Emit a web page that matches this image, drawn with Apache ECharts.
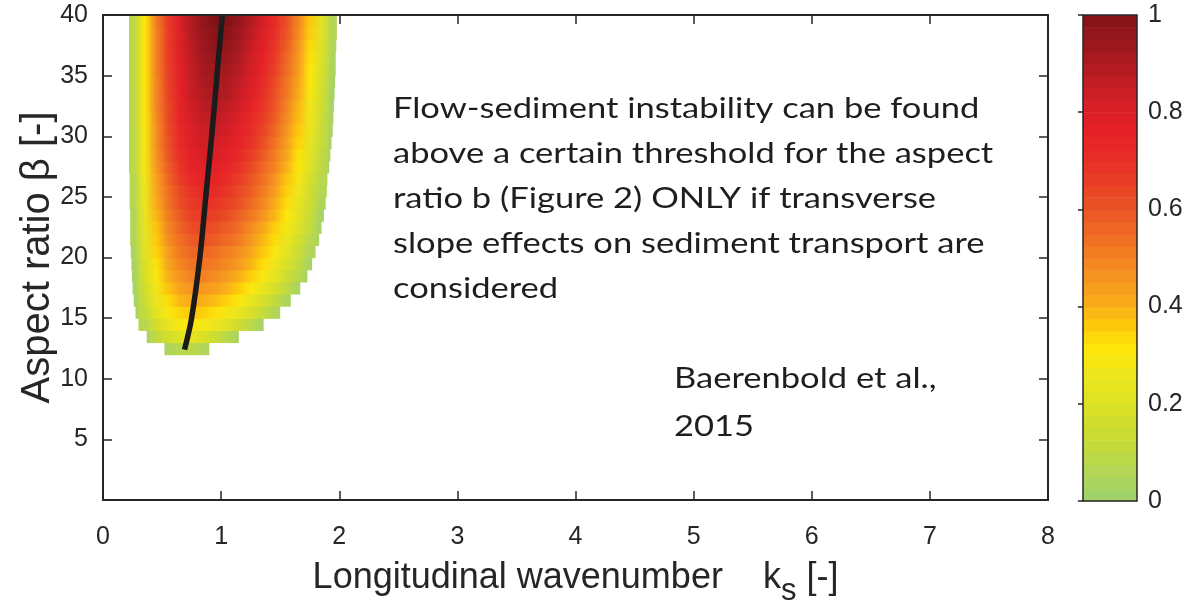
<!DOCTYPE html>
<html>
<head>
<meta charset="utf-8">
<script src="https://cdn.jsdelivr.net/npm/echarts@6/dist/echarts.min.js"></script>
<style>html,body{margin:0;padding:0;background:#fff}#chart{width:1204px;height:612px}</style>
</head>
<body>
<div id="chart"></div>
<script>
// ---- data ----
// cell centres of the growth-rate field
const ksCenters = [0.25, 0.35, 0.45, 0.55, 0.65, 0.75, 0.85, 0.95, 1.05, 1.15, 1.25, 1.35, 1.45, 1.55, 1.65, 1.75, 1.85, 1.95];
const betaCenters = [12.5, 13.5, 14.5, 15.5, 16.5, 17.5, 18.5, 19.5, 20.5, 21.5, 22.5, 23.5, 24.5, 25.5, 26.5, 27.5, 28.5, 29.5, 30.5, 31.5, 32.5, 33.5, 34.5, 35.5, 36.5, 37.5, 38.5, 39.5];
// normalised growth rate, one row per beta (bottom to top), null = stable (white)
const n = null;
const growthRate = [
  [n, n, n, .03, .06, .07, .04, n, n, n, n, n, n, n, n, n, n, n],
  [n, .02, .09, .16, .20, .21, .18, .13, .07, .02, n, n, n, n, n, n, n, n],
  [n, .06, .16, .23, .28, .29, .27, .24, .20, .14, .08, .02, n, n, n, n, n, n],
  [.02, .10, .21, .28, .33, .35, .34, .31, .27, .23, .17, .11, .04, n, n, n, n, n],
  [.02, .13, .24, .32, .38, .40, .39, .37, .33, .29, .23, .17, .10, .03, n, n, n, n],
  [.02, .15, .27, .36, .42, .45, .44, .42, .39, .34, .29, .23, .17, .09, .02, n, n, n],
  [.02, .17, .29, .39, .45, .49, .49, .46, .43, .39, .34, .28, .22, .14, .07, .02, n, n],
  [.02, .18, .31, .41, .48, .52, .52, .50, .47, .43, .38, .32, .25, .18, .10, .02, n, n],
  [.03, .20, .33, .43, .51, .55, .55, .53, .50, .46, .41, .35, .28, .21, .13, .04, n, n],
  [.04, .21, .35, .46, .53, .58, .59, .57, .54, .50, .44, .38, .32, .24, .16, .07, .02, n],
  [.04, .22, .36, .48, .56, .61, .62, .60, .57, .53, .47, .41, .34, .27, .19, .10, .02, n],
  [.04, .23, .38, .50, .58, .64, .65, .64, .61, .56, .51, .45, .38, .30, .21, .12, .02, n],
  [.05, .24, .40, .52, .61, .66, .68, .67, .64, .60, .54, .48, .40, .32, .23, .14, .04, n],
  [.05, .25, .41, .53, .62, .68, .71, .70, .67, .62, .57, .50, .43, .34, .25, .15, .05, n],
  [.06, .26, .42, .55, .65, .71, .74, .73, .70, .65, .59, .53, .45, .36, .27, .17, .06, n],
  [.07, .27, .44, .57, .67, .74, .77, .76, .73, .68, .62, .55, .48, .39, .29, .19, .08, .02],
  [.07, .28, .45, .59, .69, .76, .79, .79, .76, .71, .65, .58, .50, .41, .31, .21, .09, .02],
  [.07, .28, .46, .60, .71, .78, .82, .81, .78, .74, .68, .61, .52, .43, .33, .22, .11, .02],
  [.07, .28, .46, .61, .72, .79, .83, .84, .81, .76, .70, .63, .55, .45, .35, .24, .12, .02],
  [.07, .29, .47, .62, .73, .81, .85, .86, .83, .78, .72, .65, .57, .47, .37, .25, .13, .02],
  [.07, .29, .48, .62, .74, .82, .87, .88, .85, .81, .75, .67, .59, .49, .38, .26, .14, .02],
  [.07, .29, .48, .63, .75, .84, .88, .90, .88, .83, .77, .69, .60, .51, .40, .28, .15, .02],
  [.07, .30, .48, .64, .76, .84, .90, .91, .89, .85, .79, .71, .62, .52, .41, .29, .16, .02],
  [.07, .30, .49, .64, .76, .85, .91, .93, .91, .87, .81, .73, .64, .54, .43, .30, .17, .03],
  [.07, .30, .49, .65, .77, .86, .92, .94, .93, .89, .82, .75, .66, .55, .44, .31, .18, .03],
  [.07, .30, .49, .65, .78, .87, .93, .96, .95, .91, .84, .77, .67, .57, .45, .32, .19, .04],
  [.07, .30, .49, .65, .78, .88, .94, .97, .97, .92, .86, .78, .69, .59, .47, .34, .20, .05],
  [.07, .30, .50, .66, .79, .89, .95, .99, .98, .94, .88, .80, .71, .60, .48, .35, .20, .05]
];
// left / right limit (in ks) of the unstable region for each beta row
const edgeLeft = [0.52, 0.37, 0.30, 0.275, 0.26, 0.25, 0.245, 0.24, 0.235, 0.23, 0.23, 0.23, 0.225, 0.225, 0.225, 0.22, 0.22, 0.22, 0.22, 0.22, 0.22, 0.22, 0.22, 0.22, 0.22, 0.22, 0.22, 0.22];
const edgeRight = [0.90, 1.15, 1.36, 1.50, 1.59, 1.67, 1.73, 1.77, 1.80, 1.83, 1.85, 1.87, 1.885, 1.895, 1.905, 1.915, 1.925, 1.935, 1.945, 1.95, 1.955, 1.96, 1.965, 1.97, 1.97, 1.975, 1.98, 1.98];
// ridge of maximum growth (black line)
const ridgeKs = [0.69, 0.75, 0.82, 0.87, 0.92, 0.965, 1.01];
const ridgeBeta = [12.4, 15, 20, 25, 30, 35, 40];
// colour-bar levels (contour steps)
const colorbarLevels = [0, 0.025, 0.05, 0.075, 0.1, 0.125, 0.15, 0.175, 0.2, 0.225, 0.25, 0.275, 0.3, 0.325, 0.35, 0.375, 0.4, 0.425, 0.45, 0.475, 0.5, 0.525, 0.55, 0.575, 0.6, 0.625, 0.65, 0.675, 0.7, 0.725, 0.75, 0.775, 0.8, 0.825, 0.85, 0.875, 0.9, 0.925, 0.95, 0.975];
const annotationLines = ['Flow-sediment instability can be found', 'above a certain threshold for the aspect', 'ratio b (Figure 2) ONLY if transverse', 'slope effects on sediment transport are', 'considered'];
const citationLines = ['Baerenbold et al.,', '2015'];

// ---- style ----
const COLORS = ['#a2d36b', '#b3d654', '#c3da3c', '#d1dd2c', '#e0e224', '#eee61c', '#fde70a', '#fdc80b', '#f8aa1b', '#f59321', '#f27c22', '#ee6624', '#ea5025', '#e83c26', '#e72b27', '#e52127', '#d61f26', '#c21d24', '#a81a20', '#92161b', '#7a1114'];
const AX = '#262626';
const TXT = '#262626';
const SANS = '"Liberation Sans", Arial, Helvetica, sans-serif';
const NOTE_FONT = 'Lato, "Open Sans", sans-serif';
const CELL_W = 0.1, CELL_H = 1, CB_STEP = 0.025;

// field items: [ks, beta, value, row, col]; cellIndex lets a cell find its neighbours
const fieldData = [];
const cellIndex = growthRate.map(row => row.map(() => -1));
growthRate.forEach((row, i) => row.forEach((v, j) => {
  if (v !== null) {
    cellIndex[i][j] = fieldData.length;
    fieldData.push([ksCenters[j], betaCenters[i], v, i, j]);
  }
}));
const ridgeData = ridgeKs.map((k, i) => [k, ridgeBeta[i]]);
const colorbarData = colorbarLevels.map(l => [0, l, l]);

function renderCell(params, api) {
  const x = api.value(0), y = api.value(1);
  const i = api.value(3), j = api.value(4);
  const xa = Math.max(x - CELL_W / 2, edgeLeft[i]);
  const xb = Math.min(x + CELL_W / 2, edgeRight[i]);
  if (xb <= xa) return null;
  const p0 = api.coord([xa, y + CELL_H / 2]);
  const p1 = api.coord([xb, y - CELL_H / 2]);
  const own = api.visual('color');
  const li = j > 0 ? cellIndex[i][j - 1] : -1;
  const ri = j < cellIndex[i].length - 1 ? cellIndex[i][j + 1] : -1;
  const lc = li >= 0 ? echarts.color.lerp(0.5, [own, api.visual('color', li)]) : own;
  const rc = ri >= 0 ? echarts.color.lerp(0.5, [own, api.visual('color', ri)]) : own;
  const extra = ri >= 0 ? 0.7 : 0;
  return {
    type: 'rect',
    shape: { x: p0[0], y: p0[1], width: p1[0] - p0[0] + extra, height: p1[1] - p0[1] + 0.7 },
    style: { fill: { type: 'linear', x: 0, y: 0, x2: 1, y2: 0, colorStops: [
      { offset: 0, color: lc }, { offset: 0.5, color: own }, { offset: 1, color: rc }] } }
  };
}
function renderBand(params, api) {
  const l = api.value(1);
  const p0 = api.coord([0, l + CB_STEP]);
  const p1 = api.coord([1, l]);
  return { type: 'rect', shape: { x: p0[0], y: p0[1], width: p1[0] - p0[0], height: p1[1] - p0[1] + 0.6 }, style: { fill: api.visual('color') } };
}

const axLine = { show: true, onZero: false, lineStyle: { color: AX, width: 2 } };
const tickIn = { show: true, inside: true, length: 9, lineStyle: { color: AX, width: 1.5 } };

const chart = echarts.init(document.getElementById('chart'));
chart.setOption({
  animation: false,
  backgroundColor: '#fff',
  grid: [
    { left: 103, right: 156, top: 15, bottom: 111 },
    { left: 1083, width: 54, top: 15, bottom: 111, show: true, z: 10, borderColor: AX, borderWidth: 1.5, backgroundColor: 'transparent' }
  ],
  visualMap: {
    type: 'continuous', show: false, min: 0, max: 1, dimension: 2, seriesIndex: [0, 2],
    inRange: { color: COLORS }
  },
  xAxis: [
    { gridIndex: 0, type: 'value', min: 0, max: 8, interval: 1, position: 'bottom', z: 10,
      axisLine: axLine, axisTick: tickIn, splitLine: { show: false },
      axisLabel: { fontSize: 25, fontFamily: SANS, color: TXT, margin: 25 },
      name: '{a|Longitudinal wavenumber    k}{b|s}{a| [-]}', nameLocation: 'middle', nameGap: 50,
      nameTextStyle: { fontSize: 36, fontFamily: SANS, color: TXT,
        rich: { a: { fontSize: 36, fontFamily: SANS, color: TXT }, b: { fontSize: 31, fontFamily: SANS, color: TXT, padding: [26, 0, 0, 0] } } } },
    { gridIndex: 0, type: 'value', min: 0, max: 8, interval: 1, position: 'top', z: 10,
      axisLine: axLine, axisTick: tickIn, axisLabel: { show: false }, splitLine: { show: false } },
    { gridIndex: 1, type: 'value', min: 0, max: 1, show: false }
  ],
  yAxis: [
    { gridIndex: 0, type: 'value', min: 0, max: 40, interval: 5, position: 'left', z: 10,
      axisLine: axLine, axisTick: tickIn, splitLine: { show: false },
      axisLabel: { fontSize: 25, fontFamily: SANS, color: TXT, margin: 15, formatter: v => (v === 0 ? '' : String(v)) },
      name: 'Aspect ratio β [-]', nameLocation: 'middle', nameRotate: 90, nameGap: 45, nameMoveOverlap: false,
      nameTextStyle: { fontSize: 40, fontFamily: SANS, color: TXT } },
    { gridIndex: 0, type: 'value', min: 0, max: 40, interval: 5, position: 'right', z: 10,
      axisLine: axLine, axisTick: tickIn, axisLabel: { show: false }, splitLine: { show: false } },
    { gridIndex: 1, type: 'value', min: 0, max: 1, interval: 0.2, position: 'right', z: 10,
      axisLine: { show: false }, splitLine: { show: false },
      axisTick: { show: true, inside: true, length: 5, lineStyle: { color: AX, width: 1.5 } },
      axisLabel: { fontSize: 25, fontFamily: SANS, color: TXT, margin: 11 } }
  ],
  series: [
    { type: 'custom', name: 'growth', xAxisIndex: 0, yAxisIndex: 0, data: fieldData, renderItem: renderCell, z: 2, silent: true },
    { type: 'line', name: 'ridge', xAxisIndex: 0, yAxisIndex: 0, data: ridgeData, symbol: 'none', smooth: 0.35, z: 5, silent: true,
      lineStyle: { color: '#1b1b1b', width: 5.5, cap: 'butt' } },
    { type: 'custom', name: 'colorbar', xAxisIndex: 2, yAxisIndex: 2, data: colorbarData, renderItem: renderBand, z: 2, silent: true }
  ],
  graphic: [
    { type: 'text', x: 393, y: 86, scaleX: 1.19, z: 20, silent: true,
      style: { text: annotationLines.join('\n'), fontSize: 29, fontFamily: NOTE_FONT, lineHeight: 45, fill: '#1e1e1e', align: 'left', verticalAlign: 'top' } },
    { type: 'text', x: 674, y: 355, scaleX: 1.19, z: 20, silent: true,
      style: { text: citationLines.join('\n'), fontSize: 29, fontFamily: NOTE_FONT, lineHeight: 48, fill: '#1e1e1e', align: 'left', verticalAlign: 'top' } }
  ]
});
</script>
</body>
</html>
